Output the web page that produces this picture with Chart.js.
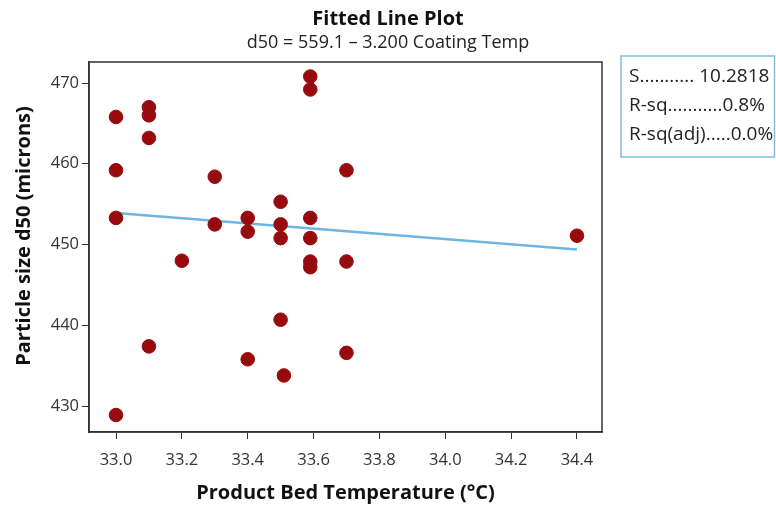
<!DOCTYPE html>
<html>
<head>
<meta charset="utf-8">
<script src="https://cdn.jsdelivr.net/npm/chart.js@4.4.1/dist/chart.umd.min.js"></script>
<style>
  html, body { margin: 0; padding: 0; background: #ffffff; }
  #wrap { width: 776px; height: 505px; position: relative; }
</style>
</head>
<body>
<div id="wrap"><canvas id="c" width="776" height="505"></canvas></div>
<script>
// ---- Data ----
const tempX = [33.0, 33.1, 33.1, 33.1, 33.0, 33.3, 33.0, 33.4, 33.4, 33.3,
               33.5, 33.5, 33.5, 33.59, 33.59, 33.59, 33.59, 33.59, 33.59, 33.2,
               33.7, 33.7, 33.5, 33.1, 33.4, 33.51, 33.7, 33.0, 34.4];
const d50Y  = [465.8, 467.0, 466.0, 463.2, 459.2, 458.4, 453.3, 453.3, 451.6, 452.5,
               455.3, 452.5, 450.8, 470.8, 469.2, 453.3, 450.8, 447.9, 447.2, 448.0,
               459.2, 447.9, 440.7, 437.4, 435.8, 433.8, 436.6, 428.9, 451.1];
const fitX = [33.0, 34.4];
const fitY = [453.9, 449.4];
const xTicks = [33.0, 33.2, 33.4, 33.6, 33.8, 34.0, 34.2, 34.4];
const yTicks = [430, 440, 450, 460, 470];
const titleText = 'Fitted Line Plot';
const subtitleText = 'd50 = 559.1 – 3.200 Coating Temp';
const yTitleText = 'Particle size d50 (microns)';
const statsLines = ["S........... 10.2818", "R-sq...........0.8%", "R-sq(adj).....0.0%"];

const FONT = "'Open Sans', 'Noto Sans', sans-serif";

const scatterData = tempX.map((x, i) => ({ x: x, y: d50Y[i] }));
const fitData = fitX.map((x, i) => ({ x: x, y: fitY[i] }));

const framePlugin = {
  id: 'frame',
  afterDraw(chart) {
    const ctx = chart.ctx;
    const a = chart.chartArea;
    ctx.save();
    // plot frame
    ctx.strokeStyle = '#333333';
    ctx.lineWidth = 1.5;
    ctx.strokeRect(a.left, a.top, a.right - a.left, a.bottom - a.top);
    // titles centred on the whole canvas
    ctx.textAlign = 'center';
    ctx.textBaseline = 'middle';
    ctx.fillStyle = '#111111';
    ctx.font = "bold 20px " + FONT;
    ctx.fillText(titleText, chart.width / 2, 19);
    ctx.fillStyle = '#222222';
    ctx.font = "18px " + FONT;
    ctx.fillText(subtitleText, chart.width / 2, 43);
    // y-axis title
    ctx.save();
    ctx.translate(24, 236);
    ctx.rotate(-Math.PI / 2);
    ctx.fillStyle = '#111111';
    ctx.font = "bold 20px " + FONT;
    ctx.fillText(yTitleText, 0, 0);
    ctx.restore();
    // stats box
    ctx.strokeStyle = '#7cc0e6';
    ctx.lineWidth = 1.5;
    ctx.strokeRect(621, 56, 153.5, 101);
    ctx.fillStyle = '#222222';
    ctx.font = "19px " + FONT;
    ctx.textBaseline = 'middle';
    ctx.textAlign = 'left';
    statsLines.forEach((t, i) => ctx.fillText(t, 629, 77 + i * 29));
    ctx.restore();
  }
};

new Chart(document.getElementById('c'), {
  type: 'scatter',
  data: {
    datasets: [
      {
        type: 'scatter',
        label: 'd50',
        data: scatterData,
        backgroundColor: '#970b0e',
        borderColor: '#970b0e',
        pointRadius: 6.8,
        pointHoverRadius: 6.8,
        order: 1
      },
      {
        type: 'line',
        label: 'Fit',
        data: fitData,
        borderColor: '#6db6e2',
        borderWidth: 2.5,
        pointRadius: 0,
        fill: false,
        order: 2
      }
    ]
  },
  options: {
    responsive: false,
    animation: false,
    devicePixelRatio: 1,
    layout: { padding: { left: 0, right: 174, top: 62, bottom: 0 } },
    plugins: {
      legend: { display: false },
      tooltip: { enabled: false },
      title: { display: false },
      subtitle: { display: false }
    },
    scales: {
      x: {
        type: 'linear',
        min: 32.918,
        max: 34.476,
        afterBuildTicks(scale) { scale.ticks = xTicks.map(v => ({ value: v })); },
        afterFit(scale) { scale.height = 73; },
        ticks: {
          color: '#333333',
          font: { family: FONT, size: 16.5 },
          padding: 11,
          callback: v => Number(v).toFixed(1)
        },
        grid: { display: true, drawOnChartArea: false, drawTicks: true, tickLength: 7, color: '#333333' },
        border: { display: true, color: '#333333', width: 1.5 },
        title: {
          display: true,
          text: 'Product Bed Temperature (°C)',
          color: '#111111',
          font: { family: FONT, size: 20, weight: 'bold' },
          padding: { top: 4, bottom: 0 }
        }
      },
      y: {
        type: 'linear',
        min: 426.8,
        max: 472.6,
        afterBuildTicks(scale) { scale.ticks = yTicks.map(v => ({ value: v })); },
        afterFit(scale) { scale.width = 89; },
        ticks: {
          color: '#333333',
          font: { family: FONT, size: 16.5 },
          padding: 3,
          callback: v => String(Math.round(v))
        },
        grid: { display: true, drawOnChartArea: false, drawTicks: true, tickLength: 7, color: '#333333' },
        border: { display: true, color: '#333333', width: 1.5 },
        title: { display: false }
      }
    }
  },
  plugins: [framePlugin]
});
</script>
</body>
</html>
